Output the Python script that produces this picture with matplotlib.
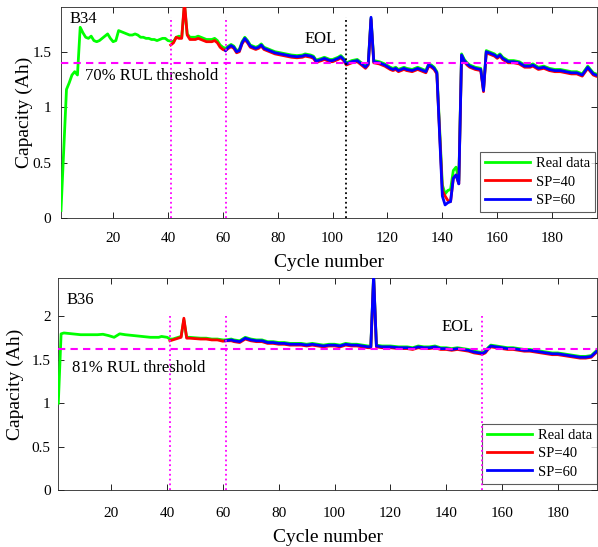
import numpy as np
import matplotlib
matplotlib.use("Agg")
import matplotlib.pyplot as plt

plt.rcParams['font.family'] = ['Liberation Serif', 'DejaVu Serif']

# ---------------- B34 data (cycle, capacity in Ah) ----------------
# segment A: real data only, cycles 1-40
b34_cyc_a = [1, 2, 3, 4, 5, 6, 7, 8, 9, 10, 11, 12, 13, 14, 15, 16, 17, 18, 19, 20,
             21, 22, 23, 24, 25, 26, 27, 28, 29, 30, 31, 32, 33, 34, 35, 36, 37, 38, 39, 40]
b34_real_a = [0.07, 0.62, 1.16, 1.22, 1.29, 1.32, 1.29, 1.72, 1.67, 1.63,
              1.62, 1.64, 1.60, 1.59, 1.60, 1.62, 1.64, 1.66, 1.62, 1.59,
              1.60, 1.69, 1.68, 1.67, 1.66, 1.65, 1.65, 1.66, 1.65, 1.63,
              1.63, 1.62, 1.62, 1.61, 1.61, 1.60, 1.61, 1.62, 1.62, 1.60]
# segment B: cycles 41-61 (real + SP=40)
b34_cyc_b = [41, 42, 43, 44, 45, 46, 47, 48, 49, 50, 51, 52, 53, 54, 55, 56, 57, 58, 59, 60, 61]
b34_real_b = [1.59, 1.59, 1.63, 1.64, 1.63, 1.92, 1.66, 1.63, 1.63, 1.63,
              1.64, 1.63, 1.62, 1.61, 1.61, 1.61, 1.62, 1.60, 1.56, 1.54, 1.53]
b34_sp40_b = [1.56, 1.58, 1.63, 1.62, 1.62, 1.95, 1.65, 1.61, 1.61, 1.61,
              1.62, 1.61, 1.60, 1.59, 1.59, 1.59, 1.60, 1.58, 1.54, 1.52, 1.51]
# segment C: cycles 61-196 (real + SP=40 + SP=60)
b34_cyc_c = [61, 62, 63, 64, 65, 66, 67, 68, 69, 70,
             71, 72, 73, 74, 75, 77, 79, 81, 83, 85,
             87, 89, 90, 92, 93, 94, 96, 97, 99, 100,
             102, 103, 104, 105, 107, 109, 110, 111, 112, 113,
             114, 115, 117, 119, 121, 122, 123, 124, 126, 127,
             129, 130, 131, 133, 134, 135, 136, 137, 138, 140,
             141, 142, 143, 144, 145, 146, 147, 148, 149, 150,
             152, 154, 155, 156, 157, 159, 160, 161, 162, 164,
             166, 168, 170, 172, 173, 175, 177, 179, 181, 183,
             185, 187, 189, 191, 193, 195, 196]
b34_real_c = [1.53, 1.55, 1.565, 1.55, 1.51, 1.52, 1.59, 1.63, 1.60, 1.56,
              1.55, 1.54, 1.55, 1.57, 1.54, 1.52, 1.50, 1.49, 1.48, 1.47,
              1.465, 1.47, 1.48, 1.47, 1.46, 1.425, 1.44, 1.45, 1.43, 1.43,
              1.45, 1.465, 1.44, 1.40, 1.42, 1.43, 1.41, 1.39, 1.37, 1.40,
              1.80, 1.42, 1.41, 1.39, 1.36, 1.35, 1.36, 1.34, 1.36, 1.35,
              1.34, 1.35, 1.36, 1.34, 1.33, 1.39, 1.38, 1.36, 1.32, 0.30,
              0.22, 0.25, 0.26, 0.43, 0.46, 0.34, 1.48, 1.43, 1.40, 1.38,
              1.36, 1.35, 1.16, 1.51, 1.50, 1.48, 1.46, 1.48, 1.45, 1.42,
              1.42, 1.41, 1.38, 1.38, 1.39, 1.36, 1.37, 1.35, 1.34, 1.34,
              1.33, 1.32, 1.32, 1.30, 1.37, 1.31, 1.30]
b34_sp40_c = [1.51, 1.53, 1.545, 1.53, 1.49, 1.50, 1.57, 1.61, 1.58, 1.54,
              1.53, 1.52, 1.53, 1.55, 1.52, 1.50, 1.48, 1.47, 1.46, 1.45,
              1.445, 1.45, 1.46, 1.45, 1.44, 1.405, 1.42, 1.43, 1.41, 1.41,
              1.43, 1.445, 1.42, 1.38, 1.40, 1.41, 1.39, 1.37, 1.35, 1.38,
              1.79, 1.40, 1.39, 1.37, 1.34, 1.33, 1.34, 1.32, 1.34, 1.33,
              1.32, 1.33, 1.34, 1.32, 1.31, 1.37, 1.36, 1.34, 1.30, 0.25,
              0.20, 0.16, 0.15, 0.36, 0.39, 0.31, 1.46, 1.41, 1.38, 1.36,
              1.34, 1.33, 1.14, 1.49, 1.48, 1.46, 1.44, 1.46, 1.43, 1.40,
              1.40, 1.39, 1.36, 1.36, 1.37, 1.34, 1.35, 1.33, 1.32, 1.32,
              1.31, 1.30, 1.30, 1.28, 1.35, 1.29, 1.28]
b34_sp60_c = [1.51, 1.54, 1.555, 1.54, 1.50, 1.51, 1.58, 1.62, 1.59, 1.55,
              1.54, 1.53, 1.54, 1.56, 1.53, 1.51, 1.49, 1.48, 1.47, 1.46,
              1.455, 1.46, 1.47, 1.46, 1.45, 1.415, 1.43, 1.44, 1.42, 1.42,
              1.44, 1.455, 1.43, 1.39, 1.41, 1.42, 1.40, 1.38, 1.36, 1.39,
              1.81, 1.41, 1.40, 1.38, 1.35, 1.34, 1.35, 1.33, 1.35, 1.34,
              1.33, 1.34, 1.35, 1.33, 1.32, 1.38, 1.37, 1.35, 1.31, 0.20,
              0.12, 0.14, 0.15, 0.36, 0.39, 0.31, 1.47, 1.42, 1.39, 1.37,
              1.35, 1.34, 1.15, 1.50, 1.49, 1.47, 1.45, 1.47, 1.44, 1.41,
              1.41, 1.40, 1.37, 1.37, 1.38, 1.35, 1.36, 1.34, 1.33, 1.33,
              1.32, 1.31, 1.31, 1.29, 1.36, 1.30, 1.29]

# ---------------- B36 data ----------------
b36_cyc_a = [1, 2, 3, 6, 9, 12, 15, 17, 19, 21, 23, 25, 28, 31, 34, 37, 38, 40, 41]
b36_real_a = [1.00, 1.80, 1.81, 1.80, 1.79, 1.79, 1.79, 1.795, 1.78, 1.76,
              1.80, 1.79, 1.78, 1.77, 1.76, 1.76, 1.77, 1.76, 1.74]
b36_cyc_b = [41, 42, 43, 44, 45, 46, 47, 48, 50, 52, 54, 56, 58, 60, 61]
b36_real_b = [1.74, 1.74, 1.75, 1.76, 1.77, 1.96, 1.76, 1.76, 1.755, 1.75,
              1.75, 1.74, 1.74, 1.73, 1.73]
b36_sp40_b = [1.72, 1.73, 1.74, 1.75, 1.76, 1.98, 1.75, 1.75, 1.745, 1.74,
              1.74, 1.73, 1.73, 1.715, 1.72]
b36_cyc_c = [61, 63, 64, 66, 68, 70, 72, 74, 76, 78,
             80, 82, 84, 86, 88, 90, 92, 94, 96, 98,
             100, 102, 104, 106, 108, 110, 112, 113, 114, 115,
             117, 120, 123, 126, 128, 130, 132, 134, 136, 138,
             140, 142, 144, 146, 148, 150, 152, 153, 154, 155,
             156, 158, 160, 162, 164, 166, 168, 170, 172, 174,
             176, 178, 180, 182, 184, 186, 188, 190, 192, 194]
b36_real_c = [1.73, 1.74, 1.73, 1.72, 1.76, 1.74, 1.73, 1.73, 1.71, 1.71,
              1.70, 1.70, 1.69, 1.69, 1.69, 1.68, 1.69, 1.68, 1.67, 1.68,
              1.68, 1.67, 1.69, 1.68, 1.68, 1.67, 1.66, 1.66, 2.47, 1.67,
              1.66, 1.66, 1.65, 1.65, 1.64, 1.66, 1.65, 1.65, 1.66, 1.64,
              1.64, 1.63, 1.64, 1.63, 1.62, 1.60, 1.59, 1.585, 1.60, 1.64,
              1.67, 1.66, 1.65, 1.64, 1.64, 1.63, 1.62, 1.62, 1.61, 1.60,
              1.59, 1.58, 1.58, 1.57, 1.56, 1.55, 1.54, 1.54, 1.55, 1.61]
b36_sp40_c = [1.71, 1.72, 1.71, 1.70, 1.74, 1.72, 1.71, 1.71, 1.69, 1.69,
              1.68, 1.68, 1.67, 1.67, 1.67, 1.66, 1.67, 1.66, 1.65, 1.66,
              1.66, 1.65, 1.67, 1.66, 1.66, 1.65, 1.64, 1.64, 2.45, 1.65,
              1.64, 1.64, 1.63, 1.63, 1.62, 1.64, 1.63, 1.63, 1.64, 1.62,
              1.62, 1.61, 1.62, 1.61, 1.60, 1.58, 1.57, 1.565, 1.58, 1.62,
              1.65, 1.64, 1.63, 1.62, 1.62, 1.61, 1.60, 1.60, 1.59, 1.58,
              1.57, 1.56, 1.56, 1.55, 1.54, 1.53, 1.52, 1.52, 1.53, 1.59]
b36_sp60_c = [1.72, 1.73, 1.72, 1.71, 1.75, 1.73, 1.72, 1.72, 1.70, 1.70,
              1.69, 1.69, 1.68, 1.68, 1.68, 1.67, 1.68, 1.67, 1.66, 1.67,
              1.67, 1.66, 1.68, 1.67, 1.67, 1.66, 1.65, 1.65, 2.48, 1.66,
              1.65, 1.65, 1.64, 1.64, 1.63, 1.65, 1.64, 1.64, 1.65, 1.63,
              1.63, 1.62, 1.63, 1.62, 1.61, 1.59, 1.58, 1.575, 1.59, 1.63,
              1.66, 1.65, 1.64, 1.63, 1.63, 1.62, 1.61, 1.61, 1.60, 1.59,
              1.58, 1.57, 1.57, 1.56, 1.55, 1.54, 1.53, 1.53, 1.54, 1.60]

# thresholds / markers
b34_threshold = 1.40
b36_threshold = 1.62
start_points = [41, 61]
b34_eol = 105
b36_eol = 153

GREEN = (0, 1, 0)
RED = (1, 0, 0)
BLUE = (0, 0, 1)
MAG = (1, 0, 1)
LW = 2.0


def draw_panel(ax, cyc_a, real_a, cyc_b, real_b, sp40_b, cyc_c, real_c, sp40_c, sp60_c,
               thr, eol, eol_color, vtop, xmax, ymax, yticks, xpad, ypad):
    real_x = cyc_a + cyc_b[1:] + cyc_c[1:]
    real_y = real_a + real_b[1:] + real_c[1:]
    sp40_x = cyc_b + cyc_c[1:]
    sp40_y = sp40_b + sp40_c[1:]
    ax.plot(real_x, real_y, color=GREEN, lw=LW, label='Real data', zorder=3)
    ax.plot(sp40_x, sp40_y, color=RED, lw=LW, label='SP=40', zorder=4)
    ax.plot(cyc_c, sp60_c, color=BLUE, lw=LW, label='SP=60', zorder=5)
    ax.axhline(thr, color=MAG, ls=(0, (3.5, 2.5)), lw=1.5, zorder=6)
    for sp in start_points:
        ax.plot([sp, sp], [0, vtop], color=MAG, ls=':', lw=1.3, zorder=6)
    ax.plot([eol, eol], [0, vtop], color=eol_color, ls=':', lw=1.3, zorder=6)
    ax.set_xlim(1, xmax)
    ax.set_ylim(0, ymax)
    ax.set_xticks(range(20, 190, 20))
    ax.set_yticks(yticks)
    ax.set_yticklabels([('%g' % t) for t in yticks])
    ax.tick_params(direction='in', top=True, right=True, labelsize=11, length=4, width=0.6)
    ax.tick_params(axis='x', pad=xpad)
    ax.tick_params(axis='y', pad=ypad)
    for s in ax.spines.values():
        s.set_linewidth(0.6)
        s.set_color('#262626')
    ax.set_xlabel('Cycle number', fontsize=14)
    ax.set_ylabel('Capacity (Ah)', fontsize=14)


fig = plt.figure(figsize=(5.98, 5.47), dpi=100)

ax1 = fig.add_axes([0.102, 0.601, 0.896, 0.3857])
draw_panel(ax1, b34_cyc_a, b34_real_a, b34_cyc_b, b34_real_b, b34_sp40_b,
           b34_cyc_c, b34_real_c, b34_sp40_c, b34_sp60_c,
           b34_threshold, b34_eol, 'black', 1.81, 196.3, 1.9, [0, 0.5, 1, 1.5], 10.2, 7)
ax1.xaxis.set_label_coords(0.5, -0.17)
ax1.yaxis.set_label_coords(-0.053, 0.5)
ax1.text(4.2, 1.79, 'B34', fontsize=12, va='center')
ax1.text(9.8, 1.285, '70% RUL threshold', fontsize=12, va='center')
ax1.text(89.7, 1.61, 'EOL', fontsize=12, va='center')
leg1 = ax1.legend(loc='lower right', bbox_to_anchor=(0.997, 0.03), fontsize=10.5,
                  frameon=True, fancybox=False, handlelength=3.1, handletextpad=0.4,
                  labelspacing=0.35, borderpad=0.35, borderaxespad=0)
leg1.get_frame().set_edgecolor('#333333')
leg1.get_frame().set_linewidth(0.8)

ax2 = fig.add_axes([0.0975, 0.1042, 0.9015, 0.387])
draw_panel(ax2, b36_cyc_a, b36_real_a, b36_cyc_b, b36_real_b, b36_sp40_b,
           b36_cyc_c, b36_real_c, b36_sp40_c, b36_sp60_c,
           b36_threshold, b36_eol, MAG, 2.0, 194.2, 2.44, [0, 0.5, 1, 1.5, 2], 12, 5.5)
ax2.xaxis.set_label_coords(0.5, -0.183)
ax2.yaxis.set_label_coords(-0.064, 0.5)
ax2.text(4.1, 2.19, 'B36', fontsize=12, va='center')
ax2.text(5.9, 1.41, '81% RUL threshold', fontsize=12, va='center')
ax2.text(138.5, 1.88, 'EOL', fontsize=12, va='center')
leg2 = ax2.legend(loc='lower right', bbox_to_anchor=(1.0, 0.03), fontsize=10.5,
                  frameon=True, fancybox=False, handlelength=3.1, handletextpad=0.4,
                  labelspacing=0.35, borderpad=0.35, borderaxespad=0)
leg2.get_frame().set_edgecolor('#333333')
leg2.get_frame().set_linewidth(0.8)

fig.savefig('out.png', dpi=100)
